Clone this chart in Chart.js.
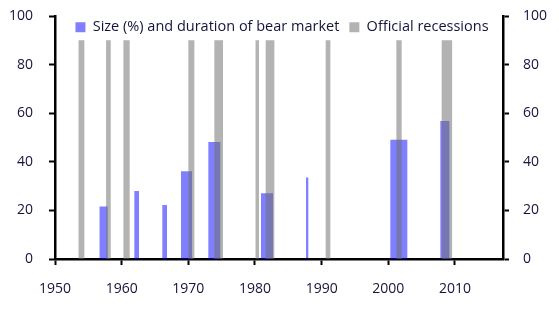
<!DOCTYPE html>
<html>
<head>
<meta charset="utf-8">
<script src="https://cdn.jsdelivr.net/npm/chart.js@4.4.0/dist/chart.umd.min.js"></script>
<style>
  html, body { margin: 0; padding: 0; background: #fff; }
  #wrap { width: 559px; height: 323px; }
</style>
</head>
<body>
<div id="wrap"><canvas id="bearChart"></canvas></div>
<script>
// Bear markets: start / end (decimal years) and peak-to-trough fall (%)
const bearStart = [1956.65, 1961.9, 1966.1, 1968.9, 1973.0, 1980.9, 1987.65, 2000.3, 2007.8];
const bearEnd = [1957.9, 1962.6, 1966.8, 1970.55, 1974.8, 1982.7, 1988.0, 2002.85, 2009.2];
const bearSize = [21.6, 28.0, 22.2, 36.1, 48.2, 27.1, 33.5, 49.1, 56.8];

// Official recessions, shown as bars of fixed height
const recessionStart = [1953.5, 1957.66, 1960.26, 1970.0, 1973.9, 1980.08, 1981.6, 1990.6, 2001.2, 2008.0];
const recessionEnd = [1954.4, 1958.36, 1961.2, 1970.9, 1975.2, 1980.6, 1982.9, 1991.3, 2002.0, 2009.6];
const recessionHeight = [90, 90, 90, 90, 90, 90, 90, 90, 90, 90];

const xTicks = [1950, 1960, 1970, 1980, 1990, 2000, 2010];
const yTicks = [0, 20, 40, 60, 80, 100];

// turn start/end/height lists into a stepped outline, filled down to zero
function blocks(starts, ends, heights) {
  const pts = [];
  starts.forEach((s, i) => {
    pts.push({ x: s, y: 0 });
    pts.push({ x: s, y: heights[i] });
    pts.push({ x: ends[i], y: heights[i] });
    pts.push({ x: ends[i], y: 0 });
  });
  return pts;
}

const FONT = { family: "Open Sans", size: 14 };
const TEXT = "#14143c";

function yAxis(pos, pad) {
  return {
    type: "linear",
    position: pos,
    min: 0,
    max: 100,
    afterBuildTicks: (axis) => {
      axis.ticks = yTicks.map((v) => ({ value: v }));
    },
    afterFit: (axis) => {
      axis.width = 49;
      axis.paddingTop = 0;
      axis.paddingBottom = 0;
    },
    grid: {
      drawOnChartArea: false,
      drawTicks: true,
      tickLength: 6,
      tickWidth: 2,
      tickColor: "#000",
    },
    border: { display: true, color: "#000", width: 2.5 },
    ticks: { color: TEXT, font: FONT, padding: pad },
  };
}

// legend sits inside the plot, over the bars, instead of taking its own strip
const legendInside = {
  id: "legendInside",
  afterLayout(chart) {
    const lg = chart.legend;
    lg.top = 10;
    lg.bottom = 42;
    lg.height = 32;
    lg.left += 3;
    lg.right += 3;
  },
};

const ctx = document.getElementById("bearChart").getContext("2d");

let bearChart = new Chart(ctx, {
  type: "line",
  data: {
    datasets: [
      {
        label: "Size (%) and duration of bear market",
        data: blocks(bearStart, bearEnd, bearSize),
        backgroundColor: "rgba(0, 0, 255, 0.5)",
        borderColor: "rgba(0, 0, 255, 0.5)",
        borderWidth: 0,
        fill: "origin",
        pointRadius: 0,
        tension: 0,
        order: 1,
      },
      {
        label: "Official recessions",
        data: blocks(recessionStart, recessionEnd, recessionHeight),
        backgroundColor: "rgba(110, 110, 110, 0.52)",
        borderColor: "rgba(110, 110, 110, 0.52)",
        borderWidth: 0,
        fill: "origin",
        pointRadius: 0,
        tension: 0,
        order: 0,
      },
    ],
  },
  options: {
    responsive: true,
    maintainAspectRatio: false,
    animation: false,
    layout: {
      padding: { left: 6, right: 7, top: 16, bottom: 24 },
    },
    scales: {
      x: {
        type: "linear",
        min: 1950,
        max: 2017.2,
        afterBuildTicks: (axis) => {
          axis.ticks = xTicks.map((v) => ({ value: v }));
        },
        afterFit: (axis) => {
          axis.height = 40;
        },
        grid: {
          drawOnChartArea: false,
          drawTicks: true,
          tickLength: 6,
          tickWidth: 2,
          tickColor: "#000",
        },
        border: { display: true, color: "#000", width: 2.5 },
        ticks: {
          color: TEXT,
          font: FONT,
          padding: 16,
          maxRotation: 0,
          callback: (v) => String(v),
        },
      },
      y: yAxis("left", 16),
      y2: yAxis("right", 14),
    },
    plugins: {
      legend: {
        display: true,
        position: "top",
        align: "center",
        maxHeight: 0.01,
        labels: {
          color: TEXT,
          font: { family: "Open Sans", size: 14.5 },
          boxWidth: 10,
          boxHeight: 10,
          padding: 10,
          sort: (a, b) => a.datasetIndex - b.datasetIndex,
        },
      },
      tooltip: { enabled: false },
    },
  },
  plugins: [legendInside],
});
</script>
</body>
</html>
